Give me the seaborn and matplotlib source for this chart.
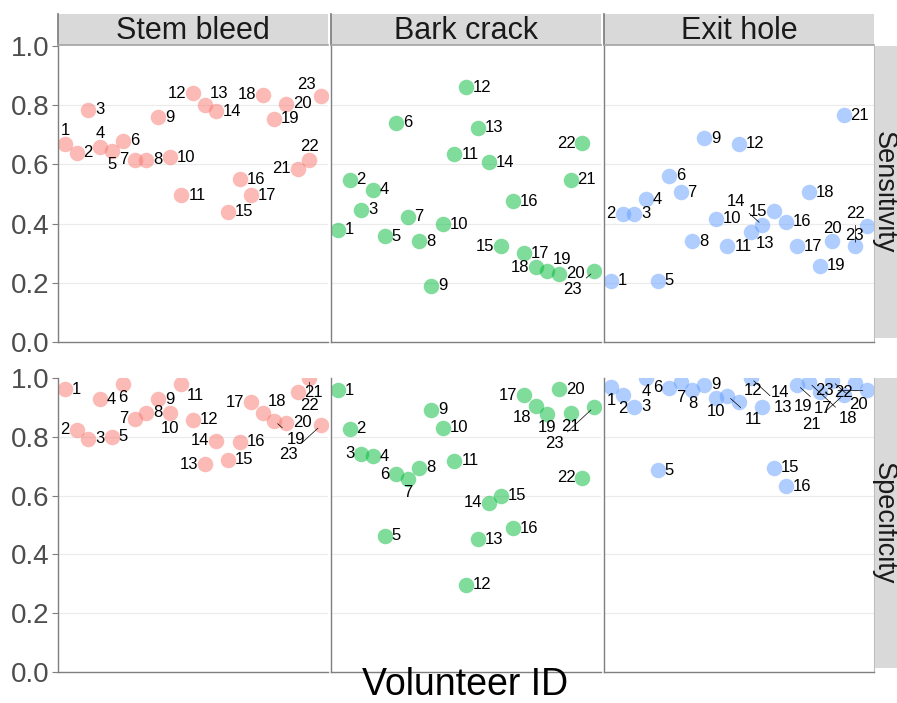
import numpy as np
import pandas as pd
import matplotlib
matplotlib.use("Agg")
import matplotlib.pyplot as plt
import seaborn as sns

# data
volunteers = list(range(1, 24))
features = ["Stem bleed", "Bark crack", "Exit hole"]
measures = ["Sensitivity", "Specificity"]
colors = {"Stem bleed": "#F8766D", "Bark crack": "#00BA38", "Exit hole": "#619CFF"}

stem_sens = [0.67, 0.64, 0.785, 0.66, 0.645, 0.68, 0.615, 0.615, 0.76, 0.625, 0.495, 0.84,
             0.80, 0.78, 0.44, 0.55, 0.495, 0.835, 0.755, 0.805, 0.585, 0.615, 0.83]
bark_sens = [0.38, 0.548, 0.446, 0.514, 0.358, 0.74, 0.423, 0.34, 0.19, 0.397, 0.635, 0.86,
             0.723, 0.608, 0.323, 0.476, 0.30, 0.253, 0.241, 0.23, 0.548, 0.672, 0.239]
exit_sens = [0.207, 0.434, 0.434, 0.482, 0.207, 0.561, 0.506, 0.34, 0.689, 0.417, 0.323, 0.67,
             0.37, 0.395, 0.442, 0.406, 0.323, 0.506, 0.258, 0.34, 0.766, 0.323, 0.391]

stem_spec = [0.962, 0.824, 0.793, 0.928, 0.801, 0.98, 0.861, 0.881, 0.928, 0.881, 0.98, 0.858,
             0.707, 0.786, 0.722, 0.784, 0.917, 0.881, 0.854, 0.847, 0.952, 1.0, 0.839]
bark_spec = [0.958, 0.828, 0.742, 0.733, 0.463, 0.673, 0.657, 0.695, 0.892, 0.83, 0.718, 0.296,
             0.452, 0.576, 0.6, 0.489, 0.941, 0.906, 0.878, 0.962, 0.881, 0.661, 0.901]
exit_spec = [0.969, 0.943, 0.903, 1.0, 0.687, 0.966, 0.985, 0.958, 0.977, 0.932, 0.94, 0.92,
             1.0, 0.903, 0.695, 0.631, 0.977, 0.985, 0.954, 0.99, 0.943, 0.983, 0.958]

values = {
    ("Sensitivity", "Stem bleed"): stem_sens,
    ("Sensitivity", "Bark crack"): bark_sens,
    ("Sensitivity", "Exit hole"): exit_sens,
    ("Specificity", "Stem bleed"): stem_spec,
    ("Specificity", "Bark crack"): bark_spec,
    ("Specificity", "Exit hole"): exit_spec,
}

rows = []
for (m, f), v in values.items():
    for vid, val in zip(volunteers, v):
        rows.append({"Measure": m, "Feature": f, "Volunteer": vid, "Value": val})
df = pd.DataFrame(rows)

sns.set_theme(style="white")
plt.rcParams["font.family"] = ["Liberation Sans", "DejaVu Sans"]

W, H = 897, 703
fig = plt.figure(figsize=(W / 100, H / 100), dpi=100)


def frac(x0, y0, x1, y1):
    # pixel box (top-left origin) -> figure fraction rect
    return [x0 / W, 1 - y1 / H, (x1 - x0) / W, (y1 - y0) / H]


col_x = [58, 331, 604]
col_w = 270
row_y = [(46, 342), (378, 672)]
AXC = "#7F7F7F"
STRIP = "#D9D9D9"
LABEL_FS = 12


def repel_labels(ax, xs, ys, texts, fs=LABEL_FS):
    # greedy placement, a rough stand-in for ggrepel
    pts = ax.transData.transform(np.column_stack([xs, ys]))
    bb = ax.get_window_extent()
    rad = 7.5
    placed = []
    dirs = [(1, 1), (1, -1), (-1, 1), (-1, -1), (1, 0), (-1, 0), (0, 1), (0, -1)]
    pref = {(1, 1): 0, (1, 0): 0.5, (-1, 1): 0.8, (1, -1): 1, (-1, -1): 1.2,
            (-1, 0): 1.2, (0, 1): 1.5, (0, -1): 1.5}
    dw = 0.556 * fs * 100 / 72
    for i, ((px, py), t) in enumerate(zip(pts, texts)):
        w = dw * len(t)
        h = 0.72 * fs * 100 / 72 + 1
        best = None
        for extra in (0, 2, 5, 9, 14, 20, 27):
            for ux, uy in dirs:
                g = rad * (0.4 if ux and uy else 0.9) + extra
                cx = px + ux * (w / 2 + g) if ux else px
                cy = py + uy * (h / 2 + g) if uy else py
                x0, x1, y0, y1 = cx - w / 2, cx + w / 2, cy - h / 2, cy + h / 2
                score = extra * 1.5 + pref[(ux, uy)]
                ox = max(0, bb.x0 - x0) + max(0, x1 - bb.x1)
                oy = max(0, bb.y0 - y0) + max(0, y1 - bb.y1)
                score += 300 * (ox + oy)
                for (a0, a1, b0, b1) in placed:
                    ow = min(x1, a1) - max(x0, a0)
                    oh = min(y1, b1) - max(y0, b0)
                    if ow > -1.5 and oh > -1.5:
                        score += 30 + 5 * (ow + 1.5) * (oh + 1.5)
                for (qx, qy) in pts:
                    nx = min(max(qx, x0), x1)
                    ny = min(max(qy, y0), y1)
                    d = np.hypot(qx - nx, qy - ny)
                    if d < rad:
                        score += 4 * (rad - d) ** 1.5
                if best is None or score < best[0]:
                    best = (score, cx, cy, extra, (x0, x1, y0, y1))
        _, cx, cy, extra, box = best
        placed.append(box)
        kw = {}
        if extra >= 9:
            kw["arrowprops"] = dict(arrowstyle="-", color="black", lw=0.5,
                                    shrinkA=1, shrinkB=3)
        ax.annotate(t, xy=(xs[i], ys[i]), xytext=(cx - px, cy - py),
                    textcoords="offset pixels", ha="center", va="center",
                    fontsize=fs, color="black", annotation_clip=False, **kw)


for r, m in enumerate(measures):
    y0, y1 = row_y[r]
    for c, f in enumerate(features):
        ax = fig.add_axes(frac(col_x[c], y0, col_x[c] + col_w, y1))
        sub = df[(df["Measure"] == m) & (df["Feature"] == f)]
        ax.set_xlim(0.4, 23.6)
        ax.set_ylim(0, 1)
        for gy in (0.2, 0.4, 0.6, 0.8):
            ax.axhline(gy, color="#EBEBEB", lw=0.8, zorder=0)
        sns.scatterplot(data=sub, x="Volunteer", y="Value", color=colors[f],
                        s=125, alpha=0.5, linewidth=0, legend=False, ax=ax, zorder=2)
        repel_labels(ax, sub["Volunteer"].to_numpy(), sub["Value"].to_numpy(),
                     [str(v) for v in sub["Volunteer"]])
        ax.set_xlabel("")
        ax.set_ylabel("")
        ax.set_xticks([])
        ax.set_yticks([0, 0.2, 0.4, 0.6, 0.8, 1.0])
        if c == 0:
            ax.set_yticklabels(["0.0", "0.2", "0.4", "0.6", "0.8", "1.0"])
            ax.tick_params(axis="y", labelsize=20, labelcolor="#4D4D4D",
                           length=4, width=0.8, color=AXC, pad=2, left=True)
        else:
            ax.set_yticklabels([])
            ax.tick_params(axis="y", length=0)
        ax.set_facecolor("white")
        for s in ("top", "right"):
            ax.spines[s].set_visible(False)
        for s in ("left", "bottom"):
            ax.spines[s].set_color(AXC)
            ax.spines[s].set_linewidth(1.0)
        if c == 2:
            ax.spines["right"].set_visible(True)
            ax.spines["right"].set_color("#BDBDBD")
            ax.spines["right"].set_linewidth(0.8)

        # column strip on top row
        if r == 0:
            sax = fig.add_axes(frac(col_x[c], 14, col_x[c] + col_w, 45))
            sax.set_facecolor(STRIP)
            sax.set_xticks([])
            sax.set_yticks([])
            for s in sax.spines.values():
                s.set_visible(False)
            sax.spines["left"].set_visible(True)
            sax.spines["left"].set_color(AXC)
            sax.spines["bottom"].set_visible(True)
            sax.spines["bottom"].set_color("#A6A6A6")
            sax.text(0.5, 0.45, f, ha="center", va="center", fontsize=22,
                     color="#1A1A1A", transform=sax.transAxes)

    # row strip on the right
    rax = fig.add_axes(frac(875, y0, 897, y1 - 4))
    rax.set_facecolor(STRIP)
    rax.set_xticks([])
    rax.set_yticks([])
    for s in rax.spines.values():
        s.set_visible(False)
    fig.text(1.0, 1 - (y0 + y1 - 4) / 2 / H, m, ha="right", va="center",
             rotation=-90, fontsize=19.5, color="#1A1A1A")

fig.text(465 / W, 0.0, "Volunteer ID", ha="center", va="bottom",
         fontsize=27, color="black")

fig.savefig("out.png", dpi=100)
